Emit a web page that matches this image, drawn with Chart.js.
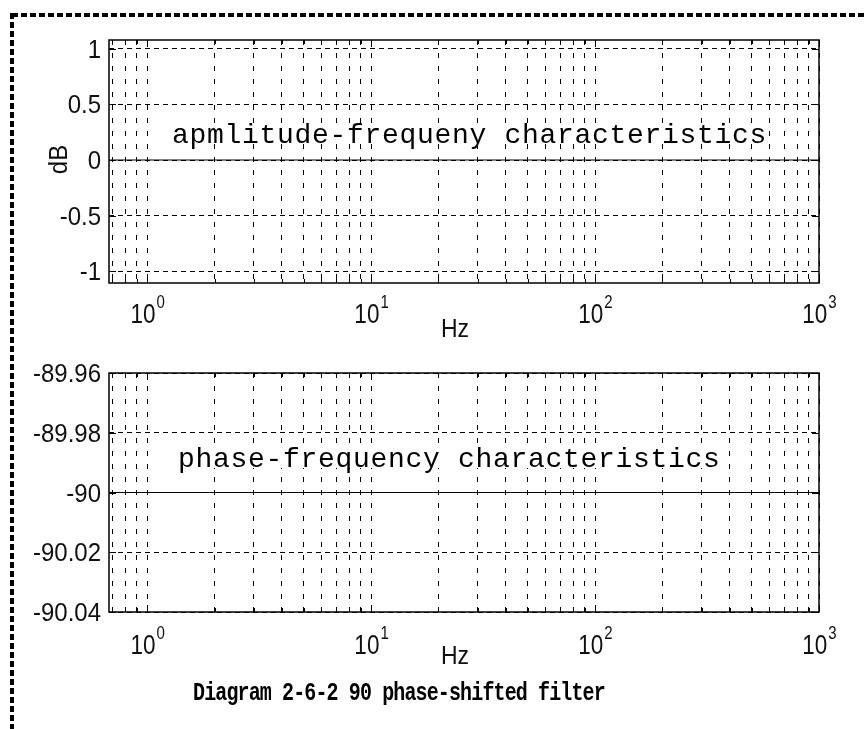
<!DOCTYPE html>
<html>
<head>
<meta charset="utf-8">
<script src="https://cdn.jsdelivr.net/npm/chart.js@4"></script>
<style>
  html, body { margin: 0; padding: 0; background: #fff; }
  body { width: 866px; height: 729px; position: relative; overflow: hidden; }
  #frame { position: absolute; left: 0; top: 0; }
  canvas { position: absolute; left: 0; }
  #gain { top: 0; }
  #phase { top: 345px; }
</style>
</head>
<body>
<svg id="frame" width="866" height="729">
  <line x1="12" y1="15" x2="866" y2="15" stroke="#000" stroke-width="4" stroke-dasharray="6 3"/>
  <line x1="12" y1="13" x2="12" y2="729" stroke="#000" stroke-width="4" stroke-dasharray="6 3"/>
</svg>
<canvas id="gain" width="866" height="345"></canvas>
<canvas id="phase" width="866" height="384"></canvas>
<script>
// filter response: flat 0 dB and -90 deg
const freqHz = [0.676, 1, 10, 100, 1000];
const gainDb = [0, 0, 0, 0, 0];
const phaseDeg = [-90, -90, -90, -90, -90];

const decades = [1, 10, 100, 1000];
const decadeExp = ["0", "1", "2", "3"];
const gainTicks = [-1, -0.5, 0, 0.5, 1];
const gainTickLabels = ["-1", "-0.5", "0", "0.5", "1"];
const phaseTicks = [-90.04, -90.02, -90, -89.98, -89.96];
const phaseTickLabels = ["-90.04", "-90.02", "-90", "-89.98", "-89.96"];

const xMin = 0.676;
const xMax = 1000;

// minor + major grid positions on the log axis
const xGrid = [];
[0.1, 1, 10, 100].forEach(function (d) {
  for (let m = 1; m <= 9; m++) {
    const v = d * m;
    if (v >= 0.69 && v < 1000) xGrid.push(v);
  }
});
xGrid.push(1000);

const SANS = "Liberation Sans, Arial, sans-serif";
const MONO = "Liberation Mono, Courier New, monospace";

function drawText(ctx, text, x, y, font, align, sy, advance) {
  ctx.save();
  ctx.font = font;
  ctx.textAlign = align || "left";
  ctx.textBaseline = "alphabetic";
  if (advance) {
    const w = ctx.measureText(text).width;
    ctx.letterSpacing = (advance - w / text.length) + "px";
  }
  ctx.translate(x, y);
  ctx.scale(1, sy || 1);
  ctx.fillText(text, 0, 0);
  ctx.restore();
}

function matlabAxes(o) {
  return {
    id: "matlabAxes",
    afterDraw(chart) {
      const ctx = chart.ctx;
      const a = chart.chartArea;
      const xs = chart.scales.x;
      const ys = chart.scales.y;
      ctx.save();
      ctx.fillStyle = "#000";
      ctx.strokeStyle = "#000";

      // annotation with white background
      const tw = o.note.length * 17.5;
      ctx.fillStyle = "#fff";
      ctx.fillRect(o.noteX - 2, o.noteY - 20, tw + 2, 21);
      ctx.fillStyle = "#000";
      drawText(ctx, o.note, o.noteX, o.noteY, "28px " + MONO, "left", 1.0, 17.5);

      // box
      ctx.lineWidth = 1.5;
      ctx.strokeRect(a.left, a.top, a.right - a.left, a.bottom - a.top);

      // inner tick marks
      ctx.lineWidth = 1;
      ctx.beginPath();
      xGrid.forEach(function (v) {
        const px = Math.round(xs.getPixelForValue(v)) + 0.5;
        const len = decades.includes(v) ? 7 : 4;
        ctx.moveTo(px, a.bottom); ctx.lineTo(px, a.bottom - len);
        ctx.moveTo(px, a.top); ctx.lineTo(px, a.top + len);
      });
      o.yTicks.forEach(function (v) {
        const py = Math.round(ys.getPixelForValue(v)) + 0.5;
        ctx.moveTo(a.left, py); ctx.lineTo(a.left + 7, py);
        ctx.moveTo(a.right, py); ctx.lineTo(a.right - 7, py);
      });
      ctx.stroke();

      // y tick labels
      ctx.fillStyle = "#111";
      o.yTicks.forEach(function (v, i) {
        const py = ys.getPixelForValue(v);
        drawText(ctx, o.yLabels[i], a.left - 8, py + 9, "24px " + SANS, "right", 1.05);
      });

      // x tick labels 10^n
      decades.forEach(function (v, i) {
        const px = xs.getPixelForValue(v);
        ctx.font = "22.5px " + SANS;
        const w1 = ctx.measureText("10").width;
        ctx.font = "15px " + SANS;
        const w2 = ctx.measureText(decadeExp[i]).width;
        const x0 = px - (w1 + w2) / 2;
        drawText(ctx, "10", x0, a.bottom + o.xLabelDy, "22.5px " + SANS, "left", 1.24);
        drawText(ctx, decadeExp[i], x0 + w1 + 1, a.bottom + o.xLabelDy - 15, "15px " + SANS, "left", 1.2);
      });

      drawText(ctx, "Hz", o.hzX, a.bottom + o.hzDy, "23px " + SANS, "center", 1.15);

      if (o.yTitle) {
        ctx.save();
        ctx.translate(67, (a.top + a.bottom) / 2 - 2);
        ctx.rotate(-Math.PI / 2);
        drawText(ctx, o.yTitle, 0, 0, "24px " + SANS, "center", 1.1);
        ctx.restore();
      }

      if (o.caption) {
        ctx.fillStyle = "#000";
        drawText(ctx, o.caption, 193, o.captionY, "bold 20px " + MONO, "left", 1.3, 11.13);
      }
      ctx.restore();
    },
  };
}

function makeChart(canvas, values, yMin, yMax, yTicks, yLabels, padding, extra) {
  const points = freqHz.map(function (f, i) { return { x: f, y: values[i] }; });
  return new Chart(canvas, {
    type: "line",
    data: {
      datasets: [{
        data: points,
        borderColor: "#000",
        borderWidth: 1.2,
        pointRadius: 0,
        tension: 0,
      }],
    },
    options: {
      responsive: false,
      animation: false,
      devicePixelRatio: 1,
      layout: { padding: padding },
      plugins: { legend: { display: false }, tooltip: { enabled: false } },
      scales: {
        x: {
          type: "logarithmic",
          min: xMin,
          max: xMax,
          afterBuildTicks: function (s) { s.ticks = xGrid.map(function (v) { return { value: v }; }); },
          ticks: { display: false },
          grid: { color: "#000", lineWidth: 1, drawTicks: false },
          border: { display: false, dash: [5, 8] },
        },
        y: {
          min: yMin,
          max: yMax,
          afterBuildTicks: function (s) { s.ticks = yTicks.map(function (v) { return { value: v }; }); },
          ticks: { display: false },
          grid: { color: "#000", lineWidth: 1, drawTicks: false },
          border: { display: false, dash: [5, 4] },
        },
      },
    },
    plugins: [matlabAxes(Object.assign({ yTicks: yTicks, yLabels: yLabels }, extra))],
  });
}

makeChart(document.getElementById("gain"), gainDb, -1.108, 1.081, gainTicks, gainTickLabels,
  { left: 109, top: 40, right: 47, bottom: 62 },
  { note: "apmlitude-frequeny characteristics", noteX: 172, noteY: 143,
    xLabelDy: 40, hzX: 455, hzDy: 54, yTitle: "dB" });

makeChart(document.getElementById("phase"), phaseDeg, -90.04, -89.96, phaseTicks, phaseTickLabels,
  { left: 109, top: 28, right: 47, bottom: 117 },
  { note: "phase-frequency characteristics", noteX: 178, noteY: 122,
    xLabelDy: 42, hzX: 455, hzDy: 52,
    caption: "Diagram 2-6-2 90 phase-shifted filter", captionY: 355 });
</script>
</body>
</html>
